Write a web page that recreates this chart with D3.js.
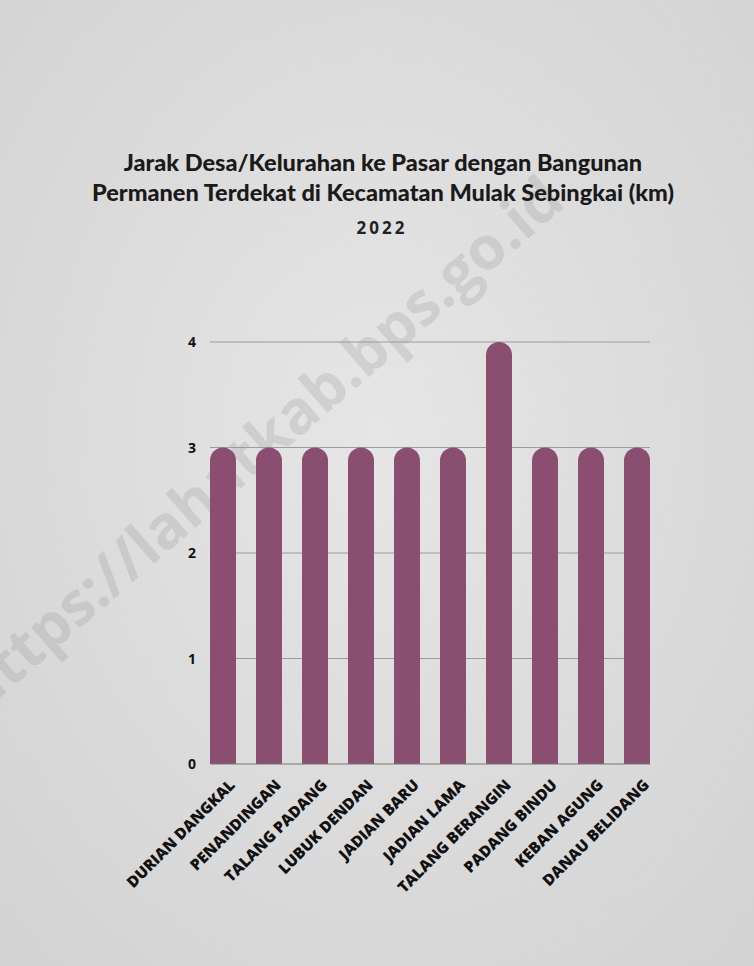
<!DOCTYPE html>
<html>
<head>
<meta charset="utf-8">
<script src="https://cdn.jsdelivr.net/npm/d3@7"></script>
<style>
  body { margin: 0; background: #dcdcdc; }
  svg { display: block; }
</style>
</head>
<body>
<div id="chart"></div>
<script>
// data
var villages = ["DURIAN DANGKAL", "PENANDINGAN", "TALANG PADANG", "LUBUK DENDAN", "JADIAN BARU",
  "JADIAN LAMA", "TALANG BERANGIN", "PADANG BINDU", "KEBAN AGUNG", "DANAU BELIDANG"];
var distances = [3, 3, 3, 3, 3, 3, 4, 3, 3, 3];
var yTicks = [0, 1, 2, 3, 4];
var titleLines = ["Jarak Desa/Kelurahan ke Pasar dengan Bangunan", "Permanen Terdekat di Kecamatan Mulak Sebingkai (km)"];
var subtitle = "2022";

var W = 754, H = 966;
var svg = d3.select("#chart").append("svg")
  .attr("width", W)
  .attr("height", H);

// paper-ish background
var defs = svg.append("defs");
var grad = defs.append("radialGradient").attr("id", "paper")
  .attr("cx", "50%").attr("cy", "45%").attr("r", "75%");
grad.append("stop").attr("offset", "0%").attr("stop-color", "#e6e6e6");
grad.append("stop").attr("offset", "100%").attr("stop-color", "#d2d2d2");
svg.append("rect").attr("width", W).attr("height", H).attr("fill", "url(#paper)");

// watermark
svg.append("text")
  .attr("transform", "translate(-20,715) rotate(-41)")
  .attr("font-family", "Open Sans, sans-serif")
  .attr("font-weight", 700)
  .attr("font-size", 60)
  .attr("fill", "#8c8c8c")
  .attr("opacity", 0.22)
  .text("https://lahatkab.bps.go.id");

// title
svg.selectAll(".title").data(titleLines).enter().append("text")
  .attr("class", "title")
  .attr("x", 383)
  .attr("y", function(d, i){ return 171 + i * 30; })
  .attr("text-anchor", "middle")
  .attr("font-family", "Lato, sans-serif")
  .attr("font-weight", 900)
  .attr("font-size", 23.5)
  .attr("fill", "#1a1a1a")
  .text(function(d){ return d; });

svg.append("text")
  .attr("x", 382).attr("y", 234)
  .attr("text-anchor", "middle")
  .attr("font-family", "Open Sans, sans-serif")
  .attr("font-weight", 700)
  .attr("font-size", 17)
  .attr("letter-spacing", 3)
  .attr("fill", "#222")
  .text(subtitle);

// scales
var plotL = 210, plotR = 650, plotT = 342, plotB = 764;
var x = d3.scaleBand().domain(villages).range([plotL, plotR])
  .paddingInner(0.435).paddingOuter(0);
var y = d3.scaleLinear().domain([0, 4]).range([plotB, plotT]);

// grid
svg.append("g").selectAll("line").data(yTicks.slice(1)).enter().append("line")
  .attr("x1", plotL).attr("x2", plotR)
  .attr("y1", function(d){ return y(d); })
  .attr("y2", function(d){ return y(d); })
  .attr("stroke", "#9c9c9c")
  .attr("stroke-width", 1);

// y labels
svg.append("g").selectAll("text").data(yTicks).enter().append("text")
  .attr("x", 192)
  .attr("y", function(d){ return y(d) + 5; })
  .attr("text-anchor", "middle")
  .attr("font-family", "Open Sans, sans-serif")
  .attr("font-weight", 700)
  .attr("font-size", 14)
  .attr("fill", "#111")
  .text(function(d){ return d; });

// bars with rounded top
var bw = x.bandwidth(), r = bw / 2;
svg.append("g").selectAll("path").data(distances).enter().append("path")
  .attr("d", function(d, i){
    var x0 = x(villages[i]), y0 = y(d), yb = y(0);
    return "M" + x0 + "," + yb +
      "L" + x0 + "," + (y0 + r) +
      "A" + r + "," + r + " 0 0 1 " + (x0 + bw) + "," + (y0 + r) +
      "L" + (x0 + bw) + "," + yb + "Z";
  })
  .attr("fill", "#8a4f70");

// baseline
svg.append("line")
  .attr("x1", plotL).attr("x2", plotR)
  .attr("y1", y(0)).attr("y2", y(0))
  .attr("stroke", "#777").attr("stroke-width", 1);

// x labels
svg.append("g").selectAll("text").data(villages).enter().append("text")
  .attr("transform", function(d){
    return "translate(" + (x(d) + bw / 2 + 13) + "," + (plotB + 22) + ") rotate(-45)";
  })
  .attr("text-anchor", "end")
  .attr("font-family", "Open Sans, sans-serif")
  .attr("font-weight", 800)
  .attr("font-size", 15.5)
  .attr("fill", "#111")
  .text(function(d){ return d; });
</script>
</body>
</html>
